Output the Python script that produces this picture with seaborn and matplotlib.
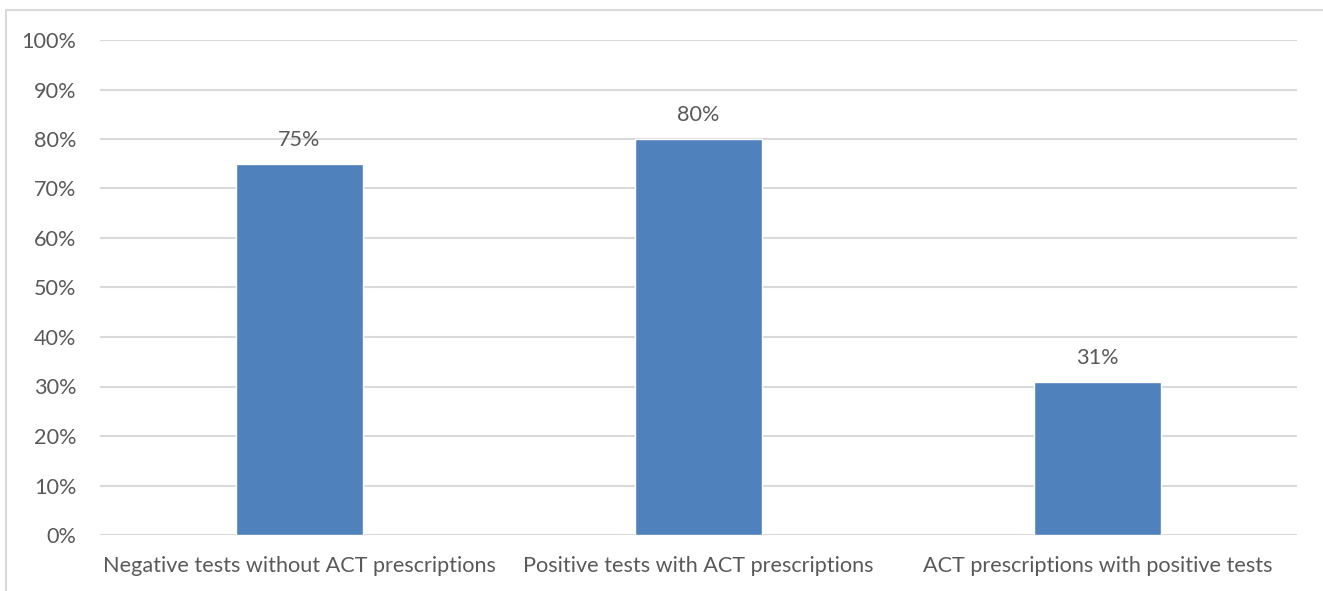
import matplotlib
matplotlib.use("Agg")
import matplotlib.pyplot as plt
from matplotlib.patches import Rectangle
from matplotlib.ticker import FuncFormatter, MultipleLocator
import seaborn as sns
import pandas as pd

categories = [
    "Negative tests without ACT prescriptions",
    "Positive tests with ACT prescriptions",
    "ACT prescriptions with positive tests",
]
percent_values = [75, 80, 31]

sns.set_theme(style="white")
plt.rcParams["font.family"] = ["Lato", "DejaVu Sans"]

text_color = "#595959"
grid_color = "#d9d9d9"
bar_color = "#4f81bd"
font_size = 15.6

df = pd.DataFrame({"category": categories, "value": [v / 100 for v in percent_values]})

fig = plt.figure(figsize=(13.23, 5.91), dpi=100)
ax = fig.add_axes([100 / 1323, 56 / 591, 1197 / 1323, 495 / 591])

sns.barplot(data=df, x="category", y="value", color=bar_color, saturation=1,
            width=0.316, ax=ax, zorder=3)

ax.set_xlim(-0.5, 2.5)
ax.set_ylim(0, 1)
ax.yaxis.set_major_locator(MultipleLocator(0.1))
ax.yaxis.set_major_formatter(FuncFormatter(lambda v, _: f"{v * 100:.0f}%"))
ax.grid(axis="y", color=grid_color, linewidth=1.5, zorder=0)
ax.set_axisbelow(True)
for s in ax.spines.values():
    s.set_visible(False)
ax.set_xlabel("")
ax.set_ylabel("")
ax.tick_params(axis="y", length=0, pad=17, labelsize=font_size, labelcolor=text_color)
ax.tick_params(axis="x", length=0, pad=15, labelsize=font_size, labelcolor=text_color)

for i, v in enumerate(percent_values):
    ax.annotate(f"{v}%", xy=(i, v / 100), xytext=(0, 10), textcoords="offset points",
                ha="center", va="bottom", fontsize=font_size, color=text_color)

# outer chart frame
fig.patches.append(Rectangle((5.5 / 1323, -0.1), 1.2, (591 - 9.5) / 591 + 0.1,
                             transform=fig.transFigure, fill=False,
                             edgecolor=grid_color, linewidth=1.5, zorder=0))

fig.savefig("out.png", dpi=100)
